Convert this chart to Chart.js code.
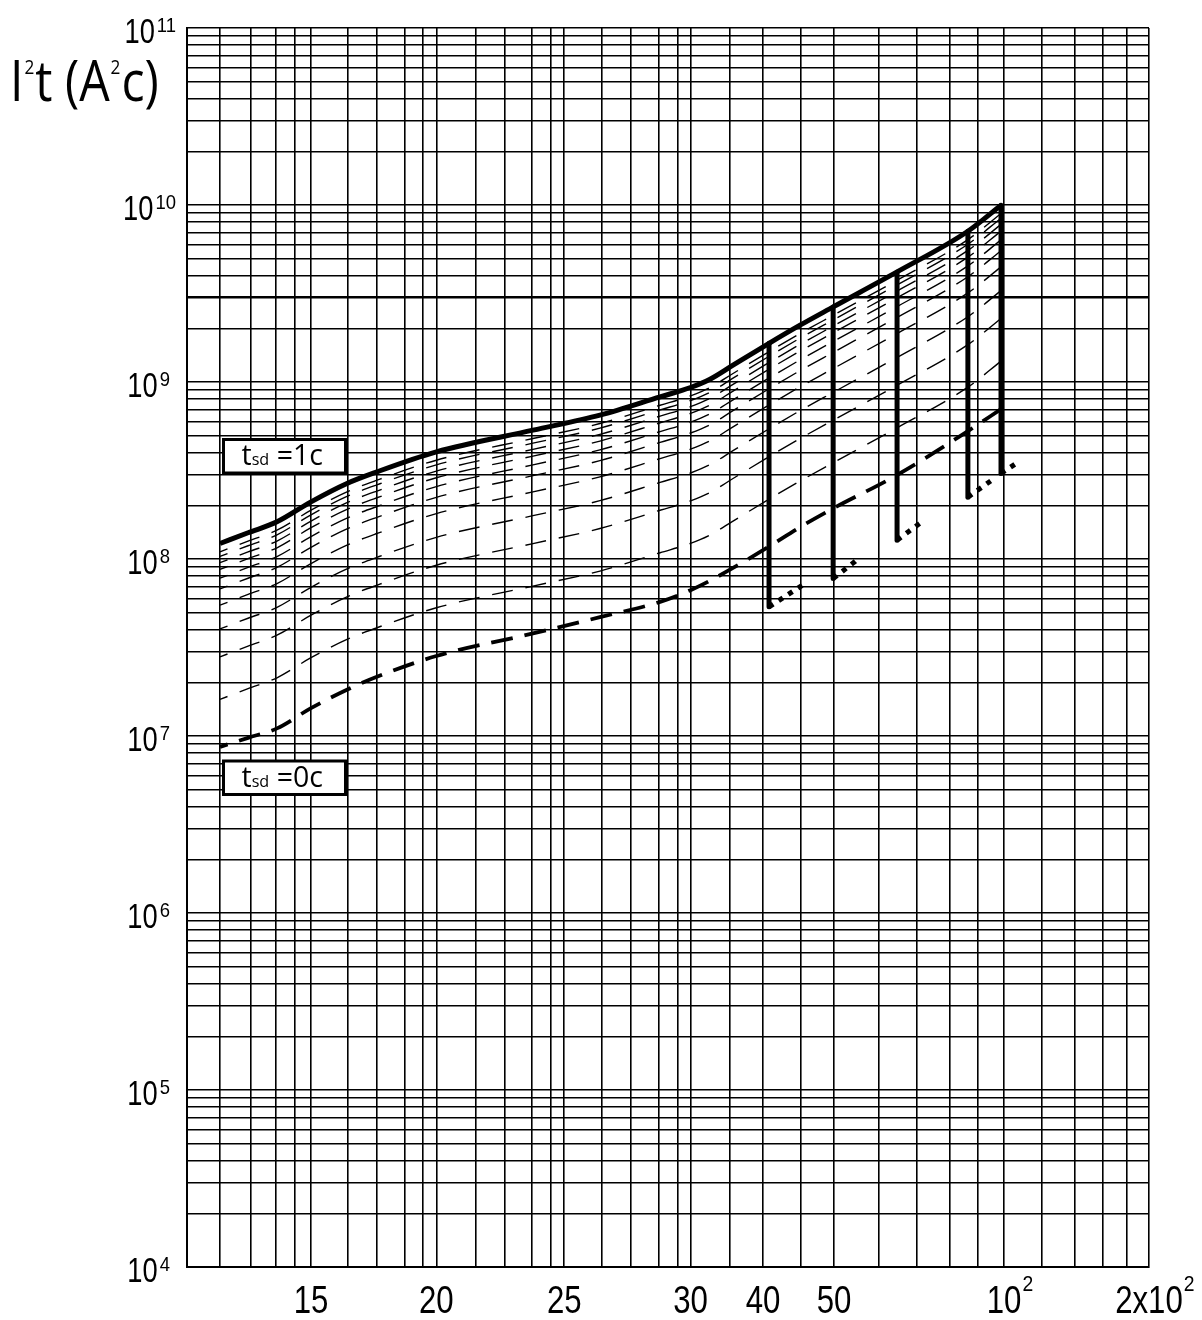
<!DOCTYPE html>
<html><head><meta charset="utf-8">
<script src="https://cdn.jsdelivr.net/npm/chart.js@4.4.0/dist/chart.umd.min.js"></script>
<style>html,body{margin:0;padding:0;background:#fff}#wrap{width:1202px;height:1320px;position:relative}</style>
</head><body><div id="wrap"><canvas id="c" width="1202" height="1320"></canvas></div>
<script>
// ---------------- data ----------------
const X_PTS = [11.14, 12.21, 13.42, 15, 16.29, 17.45, 20, 23.67, 26.32, 28.71, 30, 32.41, 35.51, 40.76, 44.93, 49.86, 64.65, 86.3, 98.78];
const TOP_1C = [1.224e8, 1.407e8, 1.621e8, 2.103e8, 2.671e8, 3.107e8, 4.03e8, 5.343e8, 6.494e8, 8.241e8, 9.31e8, 1.037e9, 1.245e9, 1.654e9, 2.094e9, 2.656e9, 4.187e9, 7.108e9, 9.97e9];
const THIN_1 = [1.098e8, 1.262e8, 1.454e8, 1.886e8, 2.396e8, 2.787e8, 3.615e8, 4.793e8, 5.825e8, 7.392e8, 8.351e8, 9.302e8, 1.117e9, 1.484e9, 1.878e9, 2.382e9, 3.756e9, 6.376e9, 8.943e9];
const THIN_2 = [1.034e8, 1.188e8, 1.369e8, 1.776e8, 2.256e8, 2.624e8, 3.403e8, 4.512e8, 5.484e8, 6.96e8, 7.862e8, 8.757e8, 1.051e9, 1.397e9, 1.768e9, 2.243e9, 3.536e9, 6.003e9, 8.42e9];
const THIN_3 = [9.535e7, 1.096e8, 1.263e8, 1.638e8, 2.081e8, 2.42e8, 3.139e8, 4.162e8, 5.059e8, 6.42e8, 7.252e8, 8.078e8, 9.699e8, 1.288e9, 1.631e9, 2.069e9, 3.262e9, 5.537e9, 7.767e9];
const THIN_4 = [8.739e7, 1.005e8, 1.157e8, 1.502e8, 1.907e8, 2.218e8, 2.877e8, 3.815e8, 4.637e8, 5.884e8, 6.647e8, 7.404e8, 8.889e8, 1.181e9, 1.495e9, 1.896e9, 2.989e9, 5.075e9, 7.119e9];
const THIN_5 = [7.794e7, 8.96e7, 1.032e8, 1.339e8, 1.701e8, 1.979e8, 2.566e8, 3.402e8, 4.135e8, 5.248e8, 5.929e8, 6.604e8, 7.928e8, 1.053e9, 1.333e9, 1.691e9, 2.666e9, 4.526e9, 6.349e9];
const THIN_6 = [6.772e7, 7.785e7, 8.969e7, 1.164e8, 1.478e8, 1.719e8, 2.23e8, 2.956e8, 3.593e8, 4.56e8, 5.151e8, 5.738e8, 6.889e8, 9.152e8, 1.159e9, 1.47e9, 2.317e9, 3.933e9, 5.516e9];
const THIN_7 = [5.486e7, 6.306e7, 7.265e7, 9.426e7, 1.197e8, 1.393e8, 1.806e8, 2.395e8, 2.911e8, 3.694e8, 4.173e8, 4.648e8, 5.58e8, 7.413e8, 9.385e8, 1.19e9, 1.877e9, 3.186e9, 4.469e9];
const THIN_8 = [4.026e7, 4.628e7, 5.331e7, 6.917e7, 8.785e7, 1.022e8, 1.325e8, 1.757e8, 2.136e8, 2.71e8, 3.062e8, 3.411e8, 4.095e8, 5.44e8, 6.887e8, 8.736e8, 1.377e9, 2.338e9, 3.279e9];
const THIN_9 = [2.8e7, 3.219e7, 3.709e7, 4.812e7, 6.111e7, 7.109e7, 9.221e7, 1.222e8, 1.486e8, 1.886e8, 2.13e8, 2.373e8, 2.849e8, 3.784e8, 4.791e8, 6.077e8, 9.58e8, 1.626e9, 2.281e9];
const THIN_10 = [1.611e7, 1.852e7, 2.133e7, 2.768e7, 3.515e7, 4.089e7, 5.303e7, 7.031e7, 8.546e7, 1.085e8, 1.225e8, 1.365e8, 1.638e8, 2.177e8, 2.756e8, 3.495e8, 5.51e8, 9.354e8, 1.312e9];
const BOTTOM_0C = [8.687e6, 9.766e6, 1.104e7, 1.437e7, 1.826e7, 2.16e7, 2.83e7, 3.797e7, 4.693e7, 5.728e7, 6.668e7, 7.545e7, 8.9e7, 1.176e8, 1.513e8, 1.93e8, 2.983e8, 5.281e8, 7.022e8];
const DROP_X = [40.76, 49.86, 64.65, 86.3, 98.78];
const DROP_TOP = [1.654e9, 2.656e9, 4.17e9, 7.108e9, 9.97e9];
const DROP_BOTTOM = [5.366e7, 7.762e7, 1.278e8, 2.235e8, 3.042e8];
const DOT_END_X = [45.93, 54.85, 71.49, 95.11, 107.1];
const DOT_END_Y = [7.4e7, 9.849e7, 1.621e8, 2.788e8, 3.538e8];

// axis definition
const X_BREAK_VALUES = [10, 15, 20, 25, 30, 40, 50, 100, 200];
const X_BREAK_POS = [0, 0.1289, 0.2592, 0.3922, 0.5234, 0.5988, 0.6726, 0.8493, 1];
const X_GRID = [10, 11.14, 12.33, 13.37, 14.22, 15, 16.32, 17.43, 18.6, 19.4, 20, 21.43, 22.52, 23.64, 24.43, 25, 26.41, 27.52, 28.67, 29.45, 30, 35, 40, 45, 50, 60, 70, 80, 90, 100, 120, 140, 160, 180, 200];
const X_LABEL_VALUES = [15, 20, 25, 30, 40, 50, 100, 200];
const X_LABEL_BASE = ['15', '20', '25', '30', '40', '50', '10', '2x10'];
const X_LABEL_SUP = ['', '', '', '', '', '', '2', '2'];
const Y_LABEL_VALUES = [1e4, 1e5, 1e6, 1e7, 1e8, 1e9, 1e10, 1e11];
const Y_LABEL_SUP = ['4', '5', '6', '7', '8', '9', '10', '11'];
const Y_GRID = [];
for (let e = 4; e <= 10; e++) for (let k = 1; k <= 9; k++) Y_GRID.push(k * Math.pow(10, e));
Y_GRID.push(1e11);

// ---------------- custom piecewise-log x scale ----------------
const LinearScale = Chart.LinearScale || (Chart.scales && Chart.scales.LinearScale) || Chart.registry.getScale('linear');
class PiecewiseScale extends LinearScale {
  determineDataLimits() { this.min = X_BREAK_VALUES[0]; this.max = X_BREAK_VALUES[X_BREAK_VALUES.length - 1]; }
  buildTicks() { return X_GRID.map(v => ({ value: v })); }
  _frac(v) {
    const b = X_BREAK_VALUES, f = X_BREAK_POS;
    let i = 0;
    while (i < b.length - 2 && v > b[i + 1]) i++;
    const t = Math.log(v / b[i]) / Math.log(b[i + 1] / b[i]);
    return f[i] + t * (f[i + 1] - f[i]);
  }
  getPixelForValue(v) {
    if (v === null || v === undefined || isNaN(v) || v <= 0) return NaN;
    return this.getPixelForDecimal(this._frac(v));
  }
  getValueForPixel(p) {
    const d = this.getDecimalForPixel(p), b = X_BREAK_VALUES, f = X_BREAK_POS;
    let i = 0;
    while (i < f.length - 2 && d > f[i + 1]) i++;
    const t = (d - f[i]) / (f[i + 1] - f[i]);
    return b[i] * Math.pow(b[i + 1] / b[i], t);
  }
}
PiecewiseScale.id = 'piecewise';
PiecewiseScale.defaults = LinearScale.defaults;
Chart.register(PiecewiseScale);

// ---------------- datasets ----------------
const pts = (xs, ys) => xs.map((x, i) => ({ x: x, y: ys[i] }));
const base = { pointRadius: 0, borderColor: '#000', fill: false, cubicInterpolationMode: 'monotone' };
const datasets = [];
DROP_X.forEach((x, i) => {
  datasets.push(Object.assign({}, base, { data: [{ x: x, y: DROP_TOP[i] }, { x: x, y: DROP_BOTTOM[i] }], borderWidth: 5, borderCapStyle: 'round' }));
  datasets.push(Object.assign({}, base, { data: [{ x: x, y: DROP_BOTTOM[i] }, { x: DOT_END_X[i], y: DOT_END_Y[i] }], borderWidth: 5, borderDash: [5, 6.5], borderCapStyle: 'butt' }));
});
datasets.push(Object.assign({}, base, { data: pts(X_PTS, TOP_1C), borderWidth: 5, borderJoinStyle: 'round', borderCapStyle: 'butt' }));
datasets.push(Object.assign({}, base, { data: pts(X_PTS, BOTTOM_0C), borderWidth: 3.8, borderDash: [22, 12], borderDashOffset: 14 }));
[THIN_1, THIN_2, THIN_3, THIN_4, THIN_5, THIN_6, THIN_7, THIN_8, THIN_9, THIN_10].forEach(s => {
  datasets.push(Object.assign({}, base, { data: pts(X_PTS, s), borderWidth: 1.4, borderDash: [21, 13], borderDashOffset: 13 }));
});

// ---------------- text drawing ----------------
function drawText(ctx, text, x, y, font, sx, align) {
  ctx.save();
  ctx.font = font;
  const w = ctx.measureText(text).width * sx;
  const left = align === 'right' ? x - w : (align === 'center' ? x - w / 2 : x);
  ctx.translate(left, y);
  ctx.scale(sx, 1);
  ctx.textAlign = 'left';
  ctx.textBaseline = 'alphabetic';
  ctx.fillStyle = '#000';
  ctx.fillText(text, 0, 0);
  ctx.restore();
  return w;
}
function measure(ctx, text, font, sx) { ctx.save(); ctx.font = font; const w = ctx.measureText(text).width * sx; ctx.restore(); return w; }

const NUM_FONT = '"Liberation Sans", Arial, sans-serif';
const LBL_FONT = '"Open Sans", "Noto Sans", sans-serif';

const textPlugin = {
  id: 'texts',
  afterDraw(chart) {
    const ctx = chart.ctx, xs = chart.scales.x, ys = chart.scales.y, area = chart.chartArea;
    // y tick labels
    Y_LABEL_VALUES.forEach((v, i) => {
      const py = ys.getPixelForValue(v);
      const sup = Y_LABEL_SUP[i];
      const bf = '35px ' + NUM_FONT, sf = '21px ' + NUM_FONT;
      const bw = measure(ctx, '10', bf, 0.78), sw = measure(ctx, sup, sf, 0.88);
      const right = sup.length > 1 ? 176 : 170;
      const left = right - (bw + 2 + sw);
      drawText(ctx, '10', left, py + 15, bf, 0.78, 'left');
      drawText(ctx, sup, left + bw + 2, py + 4, sf, 0.88, 'left');
    });
    // x tick labels
    X_LABEL_VALUES.forEach((v, i) => {
      const px = xs.getPixelForValue(v);
      const bf = '39px ' + NUM_FONT, sf = '22px ' + NUM_FONT;
      const bw = drawText(ctx, X_LABEL_BASE[i], px, area.bottom + 46, bf, 0.8, 'center');
      if (X_LABEL_SUP[i]) drawText(ctx, X_LABEL_SUP[i], px + bw / 2 + 1, area.bottom + 24, sf, 0.88, 'left');
    });
    // axis title  I²t (A²c)
    const tf = '56px ' + LBL_FONT, tsf = '20px ' + LBL_FONT, tsx = 0.86;
    let x = 10;
    x += drawText(ctx, 'I', x, 101, tf, tsx, 'left') + 1;
    x += drawText(ctx, '2', x, 74, tsf, tsx, 'left') + 1;
    x += drawText(ctx, 't (A', x, 101, tf, tsx, 'left') + 1;
    x += drawText(ctx, '2', x, 74, tsf, tsx, 'left') + 1;
    drawText(ctx, 'c)', x, 101, tf, tsx, 'left');
    // t_sd boxes
    const boxes = [{ top: 439.5, txt: ' =1c' }, { top: 761, txt: ' =0c' }];
    boxes.forEach(b => {
      const bx = area.left + 36.5, bwid = 122, bh = 33.5;
      ctx.save();
      ctx.fillStyle = '#fff';
      ctx.fillRect(bx, b.top, bwid, bh);
      ctx.lineWidth = 3;
      ctx.strokeStyle = '#000';
      ctx.strokeRect(bx, b.top, bwid, bh);
      ctx.restore();
      let tx = bx + 18;
      const by = b.top + 25.5;
      tx += drawText(ctx, 't', tx, by, '30px ' + LBL_FONT, 0.95, 'left');
      tx += drawText(ctx, 'sd', tx, by, '17px ' + LBL_FONT, 0.95, 'left');
      drawText(ctx, b.txt, tx, by, '30px ' + LBL_FONT, 0.95, 'left');
    });
  }
};

new Chart(document.getElementById('c'), {
  type: 'line',
  data: { datasets: datasets },
  options: {
    responsive: false,
    animation: false,
    parsing: true,
    layout: { padding: { left: 187, right: 53, top: 28, bottom: 53 } },
    plugins: { legend: { display: false }, tooltip: { enabled: false }, title: { display: false } },
    scales: {
      x: {
        type: 'piecewise', position: 'bottom', min: 10, max: 200,
        grid: { color: '#000', lineWidth: 1.6, drawTicks: false },
        border: { display: true, color: '#000', width: 2 },
        ticks: { display: false, callback: () => '' },
        afterFit: s => { s.height = 0; }
      },
      y: {
        type: 'logarithmic', min: 1e4, max: 1e11,
        grid: { color: '#000', drawTicks: false, lineWidth: c => (c.tick && Math.abs(c.tick.value - 3e9) < 1) ? 2.5 : 1.4 },
        border: { display: true, color: '#000', width: 2 },
        ticks: { display: false, callback: () => '' },
        afterBuildTicks: s => { s.ticks = Y_GRID.map(v => ({ value: v })); },
        afterFit: s => { s.width = 0; }
      }
    }
  },
  plugins: [textPlugin]
});
</script>
</body></html>
